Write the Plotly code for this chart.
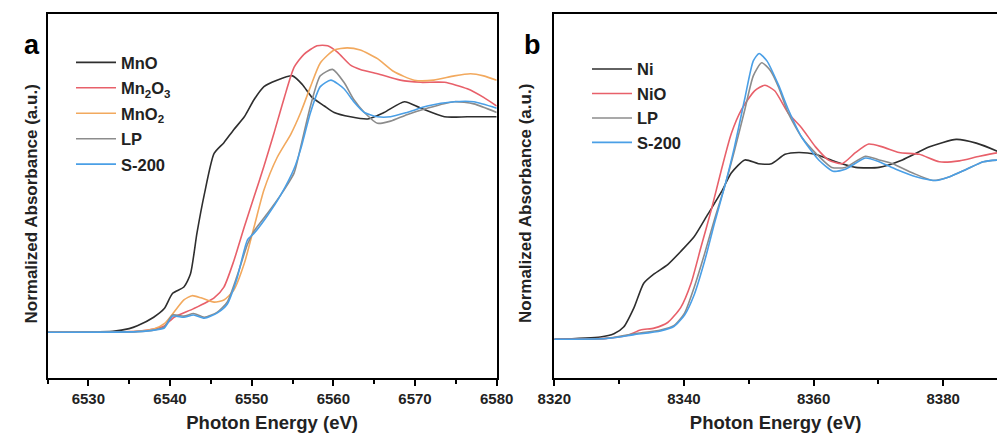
import plotly.graph_objects as go

# ---------------- Panel a: Mn K-edge ----------------
mno_e = [6525, 6533, 6535, 6536, 6538, 6539.3, 6540.3, 6541.7, 6542.5, 6543.3, 6544.2, 6545.4, 6546.6,
         6547.8, 6549.1, 6550.3, 6551.5, 6553.1, 6555, 6556.2, 6557.4, 6558.9, 6560.1, 6562.1,
         6564.2, 6566.2, 6568.7, 6570.7, 6573.6, 6576.4, 6580]
mno_v = [0, 0.005, 0.017, 0.03, 0.07, 0.11, 0.18, 0.21, 0.27, 0.46, 0.64, 0.83, 0.88,
         0.94, 1.0, 1.08, 1.14, 1.17, 1.19, 1.15, 1.09, 1.05, 1.02, 1.0,
         0.99, 1.02, 1.07, 1.04, 1.0, 1.0, 1.0]

mn2o3_e = [6525, 6536, 6538, 6539.3, 6540.5, 6542.9, 6545.4, 6546.6, 6547.8, 6549.1, 6550.3, 6551.5,
           6552.7, 6554, 6555.2, 6556.4, 6558, 6559.3, 6560.5, 6562.1, 6563.3, 6565.4, 6568.2,
           6570.7, 6573.6, 6576.4, 6578.4, 6580]
mn2o3_v = [0, 0.005, 0.015, 0.03, 0.07, 0.11, 0.16, 0.21, 0.33, 0.49, 0.63, 0.77,
           0.92, 1.09, 1.23, 1.29, 1.33, 1.33, 1.30, 1.24, 1.22, 1.20, 1.17,
           1.16, 1.16, 1.13, 1.09, 1.05]

mno2_e = [6525, 6536, 6538, 6539.3, 6540.5, 6541.7, 6542.7, 6543.8, 6545.4, 6546.6, 6547.8, 6549.1,
          6550.3, 6551.5, 6553.1, 6554.8, 6556, 6557.2, 6558.4, 6560.1, 6561.7, 6563.3, 6565.4,
          6567.4, 6569.9, 6572.3, 6574.8, 6576.8, 6578.4, 6580]
mno2_v = [0, 0.005, 0.015, 0.04, 0.094, 0.15, 0.17, 0.16, 0.14, 0.15, 0.195, 0.32,
          0.49, 0.66, 0.81, 0.92, 1.02, 1.14, 1.25, 1.31, 1.32, 1.31, 1.27,
          1.21, 1.17, 1.17, 1.19, 1.20, 1.19, 1.17]

lpa_e = [6525, 6536, 6538, 6539.3, 6540.3, 6541.7, 6542.9, 6544.2, 6545.8, 6547, 6548.2, 6549.5,
         6550.3, 6551.9, 6553.6, 6555.2, 6556, 6557.2, 6558.4, 6559.9, 6561.3, 6562.5, 6563.8,
         6565.4, 6567, 6569, 6571.5, 6574.8, 6577.2, 6580]
lpa_v = [0, 0.003, 0.01, 0.025, 0.08, 0.075, 0.087, 0.07, 0.094, 0.14, 0.26, 0.41,
         0.47, 0.55, 0.64, 0.74, 0.86, 1.05, 1.19, 1.22, 1.16, 1.08, 1.02,
         0.97, 0.98, 1.01, 1.04, 1.07, 1.06, 1.02]

s200a_e = [6525, 6536, 6538, 6539.3, 6540.3, 6541.7, 6542.9, 6544.2, 6545.8, 6547, 6548.2, 6549.5,
           6550.3, 6551.9, 6553.6, 6555.2, 6556, 6557.2, 6558.4, 6559.7, 6561.3, 6562.5, 6563.8,
           6565.4, 6567, 6569, 6571.5, 6574.8, 6577.2, 6580]
s200a_v = [0, 0.003, 0.01, 0.02, 0.075, 0.07, 0.08, 0.065, 0.09, 0.13, 0.25, 0.43,
           0.46, 0.54, 0.64, 0.76, 0.85, 1.02, 1.14, 1.17, 1.13, 1.07, 1.02,
           1.0, 1.0, 1.02, 1.05, 1.07, 1.07, 1.04]

# ---------------- Panel b: Ni K-edge ----------------
ni_e = [8320, 8327.1, 8329.2, 8330.7, 8332.3, 8333.8, 8335.4, 8337.5, 8339.5, 8341.6, 8343.7, 8345.8,
        8347.3, 8349.4, 8351.5, 8353.5, 8355.6, 8357.7, 8360.3, 8363.4, 8366.5, 8370.1, 8373.7,
        8377.9, 8382, 8385.1, 8388.8, 8390]
ni_v = [0, 0.0125, 0.03, 0.066, 0.17, 0.30, 0.35, 0.40, 0.47, 0.55, 0.67, 0.79,
        0.89, 0.96, 0.94, 0.94, 0.99, 1.0, 0.99, 0.95, 0.92, 0.92, 0.96,
        1.03, 1.07, 1.05, 1.0, 0.98]

nio_e = [8320, 8328, 8331.2, 8333.3, 8335.4, 8337.5, 8339.5, 8341.1, 8342.6, 8344.2, 8345.8, 8347.3,
         8348.9, 8350.9, 8352.5, 8354, 8356.1, 8358.2, 8360.3, 8362.3, 8364.4, 8366.5, 8368.5,
         8370.6, 8373.2, 8376.3, 8379.4, 8382.5, 8385.6, 8388.8, 8390]
nio_v = [0, 0.005, 0.02, 0.05, 0.06, 0.09, 0.17, 0.30, 0.49, 0.69, 0.91, 1.10,
         1.23, 1.33, 1.36, 1.33, 1.21, 1.13, 1.03, 0.96, 0.94, 1.0, 1.045,
         1.03, 1.0, 0.99, 0.95, 0.955, 0.98, 1.0, 1.0]

lpb_e = [8320, 8328, 8332.3, 8336.4, 8338.5, 8340.1, 8341.6, 8343.2, 8344.7, 8346.3, 8347.8, 8349.4,
         8350.7, 8352, 8353.3, 8354.6, 8356.1, 8358.2, 8360.8, 8362.8, 8364.9, 8368, 8370.1,
         8372.2, 8375.3, 8378.4, 8381, 8383.6, 8386.2, 8388.8, 8390]
lpb_v = [0, 0.005, 0.03, 0.05, 0.075, 0.14, 0.28, 0.46, 0.64, 0.82, 1.01, 1.23,
         1.41, 1.48, 1.44, 1.35, 1.21, 1.08, 0.98, 0.92, 0.92, 0.98, 0.96,
         0.94, 0.89, 0.85, 0.87, 0.91, 0.95, 0.96, 0.96]

s200b_e = [8320, 8328, 8332.3, 8336.4, 8338.5, 8340.1, 8341.6, 8343.2, 8344.7, 8346.3, 8347.8, 8349.4,
           8350.7, 8351.6, 8352.8, 8354.6, 8356.1, 8358.2, 8360.8, 8363, 8364.9, 8368, 8370.1,
           8372.7, 8375.8, 8378.9, 8381, 8383.6, 8386.2, 8388.8, 8390]
s200b_v = [0, 0.004, 0.025, 0.045, 0.07, 0.13, 0.24, 0.42, 0.62, 0.82, 1.03, 1.29,
           1.49, 1.53, 1.49, 1.36, 1.23, 1.08, 0.96, 0.90, 0.91, 0.97, 0.95,
           0.91, 0.87, 0.85, 0.87, 0.91, 0.95, 0.96, 0.96]

BLACK = "#2e2e2e"
RED = "#e8606a"
ORANGE = "#f2a95e"
GRAY = "#8c8c8c"
BLUE = "#4a9fe6"

series_a = [
    ("MnO", mno_e, mno_v, BLACK),
    ("Mn<sub>2</sub>O<sub>3</sub>", mn2o3_e, mn2o3_v, RED),
    ("MnO<sub>2</sub>", mno2_e, mno2_v, ORANGE),
    ("LP", lpa_e, lpa_v, GRAY),
    ("S-200", s200a_e, s200a_v, BLUE),
]
series_b = [
    ("Ni", ni_e, ni_v, BLACK),
    ("NiO", nio_e, nio_v, RED),
    ("LP", lpb_e, lpb_v, GRAY),
    ("S-200", s200b_e, s200b_v, BLUE),
]

FONT = "Liberation Sans"
fig = go.Figure()

for i, (name, e, v, c) in enumerate(series_a):
    fig.add_trace(go.Scatter(x=e, y=v, mode="lines", name=name, line=dict(color=c, width=1.6, shape="spline", smoothing=0.6),
                             xaxis="x", yaxis="y", legend="legend", legendgroup="a%d" % i))
for i, (name, e, v, c) in enumerate(series_b):
    fig.add_trace(go.Scatter(x=e, y=v, mode="lines", name=name, line=dict(color=c, width=1.6, shape="spline", smoothing=0.6),
                             xaxis="x2", yaxis="y2", legend="legend2", legendgroup="b%d" % i))

W, H = 997, 433
MT, MB = 14, 55
PH = H - MT - MB  # plot-area height in pixels


def py(ypix):
    """pixel row (from top of figure) -> paper y fraction"""
    return (H - MB - ypix) / PH


ax_common = dict(
    showline=True, linecolor="black", linewidth=2, ticks="outside", ticklen=6, tickwidth=2,
    tickcolor="black", showgrid=False, zeroline=False, automargin=False,
    tickfont=dict(family=FONT, size=15, color="#222", weight="bold"),
    title=dict(text="Photon Energy (eV)", font=dict(family=FONT, size=18.5, color="#222", weight="bold"), standoff=10),
)
ay_common = dict(
    showline=True, linecolor="black", linewidth=2, ticks="", showticklabels=False,
    showgrid=False, zeroline=False, automargin=False,
)

YTITLE = "Normalized Absorbance (a.u.)"
ytitle_font = dict(family=FONT, size=17, color="#222", weight="bold")

fig.update_layout(
    width=W, height=H,
    margin=dict(l=0, r=0, t=MT, b=MB),
    paper_bgcolor="white", plot_bgcolor="white",
    xaxis=dict(ax_common, domain=[47.5 / W, 496.7 / W], range=[6525, 6580], dtick=10, tick0=6530,
               mirror=True, anchor="y",
               minor=dict(dtick=5, tick0=6525, ticks="outside", ticklen=4, tickwidth=2, tickcolor="black", showgrid=False)),
    yaxis=dict(ay_common, domain=[0, 1], range=[-0.212, 1.477], mirror=True, anchor="x"),
    xaxis2=dict(ax_common, domain=[554.3 / W, 1.0], range=[8320, 8388.3], dtick=20, tick0=8320,
                mirror=True, anchor="y2",
                minor=dict(dtick=10, tick0=8320, ticks="outside", ticklen=4, tickwidth=2, tickcolor="black", showgrid=False)),
    yaxis2=dict(ay_common, domain=[0, 1], range=[-0.207, 1.741], mirror=False, anchor="x2"),
    legend=dict(x=71 / W, y=1 - 37 / H, xanchor="left", yanchor="top", bgcolor="rgba(0,0,0,0)",
                font=dict(family=FONT, size=16.5, color="#222", weight="bold"), tracegroupgap=1, itemwidth=40),
    legend2=dict(x=587 / W, y=1 - 45 / H, xanchor="left", yanchor="top", bgcolor="rgba(0,0,0,0)",
                 font=dict(family=FONT, size=16.5, color="#222", weight="bold"), tracegroupgap=0, itemwidth=40),
    showlegend=True,
    annotations=[
        dict(text="a", x=22 / W, y=py(28), xref="paper", yref="paper", showarrow=False,
             font=dict(family=FONT, size=27, color="black", weight="bold")),
        dict(text="b", x=532 / W, y=py(28), xref="paper", yref="paper", showarrow=False,
             font=dict(family=FONT, size=27, color="black", weight="bold")),
        dict(text=YTITLE, textangle=-90, x=20 / W, y=py(204), xref="paper", yref="paper",
             showarrow=False, font=ytitle_font),
        dict(text=YTITLE, textangle=-90, x=526 / W, y=py(204), xref="paper", yref="paper",
             showarrow=False, font=ytitle_font),
    ],
)

fig.write_html("out.html")
